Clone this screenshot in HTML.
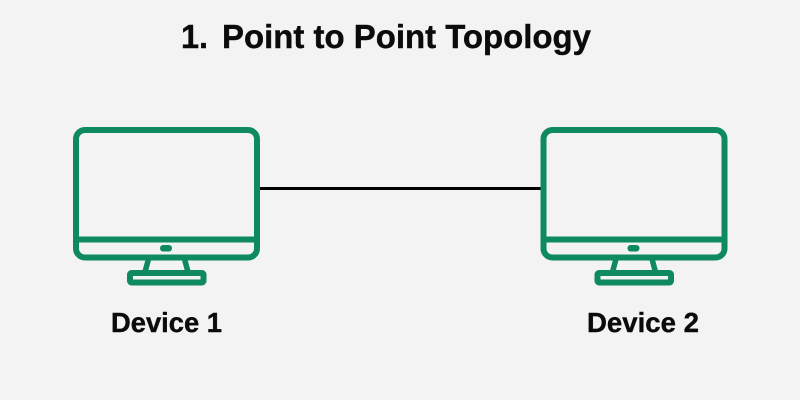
<!DOCTYPE html>
<html>
<head>
<meta charset="utf-8">
<style>
html,body{margin:0;padding:0;width:800px;height:400px;overflow:hidden;background:#f3f3f3}
svg{display:block}
text{font-family:"Liberation Sans",sans-serif;font-weight:700;fill:#0b0b0b;stroke:#0b0b0b;stroke-width:.4}
</style>
</head>
<body>
<svg width="800" height="400" viewBox="0 0 800 400" xmlns="http://www.w3.org/2000/svg">
<rect width="800" height="400" fill="#f3f3f3"/>
<defs>
<g id="m" fill="none" stroke="#0f8a5f" stroke-width="6">
<rect x="76" y="130" width="181" height="127.5" rx="9"/>
<path d="M76 239.500H257"/>
<rect x="160" y="245" width="12" height="6.500" rx="3.200" fill="#0f8a5f" stroke="none"/>
<path d="M148.500 259L145 272M184.500 259L188 272" stroke-width="5.500"/>
<rect x="130" y="273" width="73.500" height="9.500" rx="1.500"/>
</g>
</defs>
<line x1="258" y1="188.500" x2="542" y2="188.500" stroke="#000" stroke-width="3"/>
<use href="#m"/>
<use href="#m" x="467.500"/>
<text x="181" y="48" font-size="33" textLength="27" lengthAdjust="spacingAndGlyphs">1.</text>
<text x="222" y="48" font-size="33" textLength="369" lengthAdjust="spacingAndGlyphs">Point to Point Topology</text>
<text x="111" y="332" font-size="27.500" textLength="111" lengthAdjust="spacingAndGlyphs">Device 1</text>
<text x="587" y="332" font-size="27.500" textLength="112" lengthAdjust="spacingAndGlyphs">Device 2</text>
</svg>
</body>
</html>
